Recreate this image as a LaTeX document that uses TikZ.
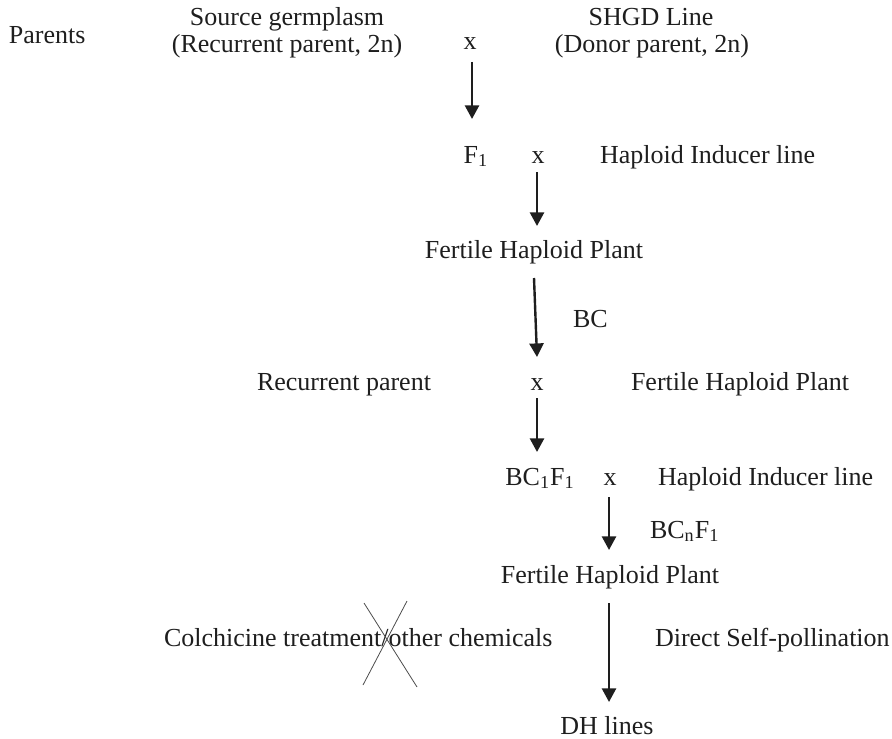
\documentclass[tikz,border=0pt]{standalone}
\usepackage{fontspec}
\setmainfont{Liberation Serif}
\usetikzlibrary{arrows.meta}
\definecolor{ink}{HTML}{1E1E1E}
\tikzset{
  lbl/.style={inner sep=0pt, outer sep=0pt, text=ink, font=\fontsize{13}{15}\selectfont, anchor=base},
  lbll/.style={lbl, anchor=base west},
  flow/.style={draw=ink, line width=1.2pt, -{Triangle[width=7pt,length=6.8pt]}},
  strike/.style={draw=black!70, line width=0.4pt}
}
\begin{document}
\begin{tikzpicture}[x=0.5pt,y=-0.5pt]
\useasboundingbox (0,0) rectangle (892,738);
% row 1
\node[lbll] (par) at (9,44) {Parents};
\node[lbl] (src) at (287,26) {Source germplasm};
\node[lbl] (rec) at (287,53) {(Recurrent parent, 2n)};
\node[lbl] (x1) at (470,50) {x};
\node[lbl] (shgd) at (651,26) {SHGD Line};
\node[lbl] (don) at (652,53) {(Donor parent, 2n)};
\coordinate (a1s) at (472,62);
\coordinate (a1e) at (472,119);
\draw[flow] (a1s) -- (a1e);
% row 2
\node[lbl] (f1) at (476,163) {F\textsubscript{1}};
\node[lbl] (x2) at (538,163) {x};
\node[lbll] (hil1) at (600,163) {Haploid Inducer line};
\coordinate (a2s) at (537,172);
\coordinate (a2e) at (537,226);
\draw[flow] (a2s) -- (a2e);
\node[lbl] (fhp1) at (534,258) {Fertile Haploid Plant};
\coordinate (a3s) at (534,278);
\coordinate (a3e) at (537,357);
\draw[flow] (a3s) -- (a3e);
\node[lbll] (bc) at (573,327) {BC};
% row 3
\node[lbll] (rp) at (257,390) {Recurrent parent};
\node[lbl] (x3) at (537,390) {x};
\node[lbll] (fhp2) at (631,390) {Fertile Haploid Plant};
\coordinate (a4s) at (537,398);
\coordinate (a4e) at (537,452);
\draw[flow] (a4s) -- (a4e);
% row 4
\node[lbl] (bc1) at (540,485) {BC\textsubscript{1}F\textsubscript{1}};
\node[lbl] (x4) at (610,485) {x};
\node[lbll] (hil2) at (658,485) {Haploid Inducer line};
\coordinate (a5s) at (609,497);
\coordinate (a5e) at (609,550);
\draw[flow] (a5s) -- (a5e);
\node[lbll] (bcn) at (650,538) {BC\textsubscript{n}F\textsubscript{1}};
\node[lbl] (fhp3) at (610,583) {Fertile Haploid Plant};
% row 5
\node[lbll] (col) at (164,646) {Colchicine treatment/other chemicals};
\coordinate (c1a) at (364,603);
\coordinate (c1b) at (417,687);
\coordinate (c2a) at (407,601);
\coordinate (c2b) at (363,685);
\draw[strike] (c1a) -- (c1b);
\draw[strike] (c2a) -- (c2b);
\coordinate (a6s) at (609,603);
\coordinate (a6e) at (609,702);
\draw[flow] (a6s) -- (a6e);
\node[lbll] (dsp) at (655,646) {Direct Self-pollination};
\node[lbl] (dh) at (607,734) {DH lines};
\end{tikzpicture}
\end{document}
